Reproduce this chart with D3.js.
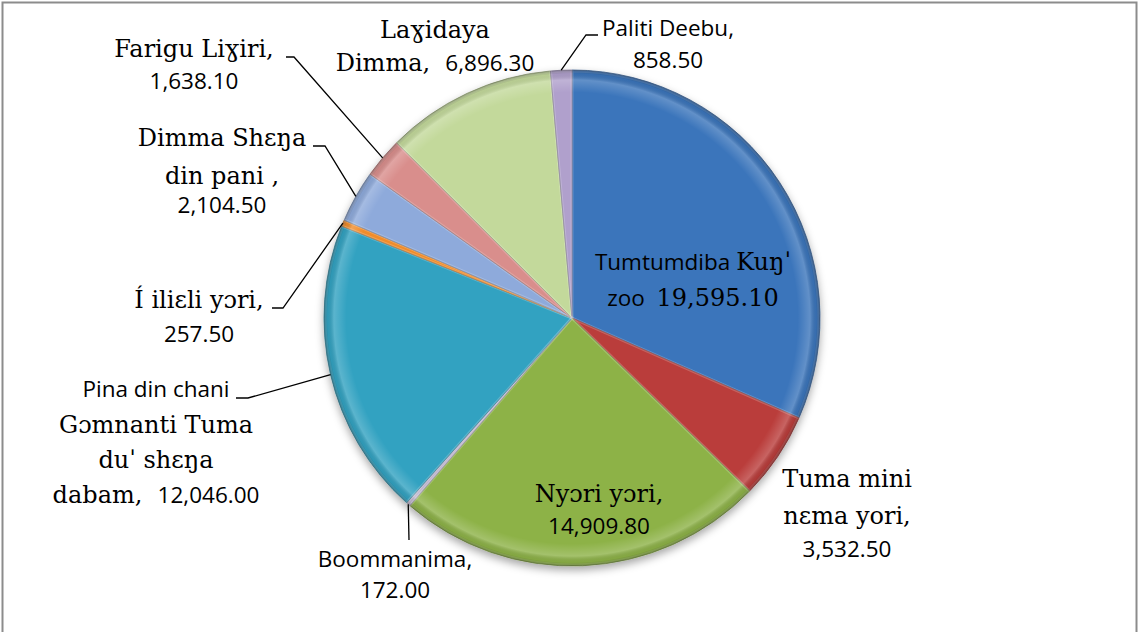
<!DOCTYPE html>
<html>
<head>
<meta charset="utf-8">
<script src="https://cdn.jsdelivr.net/npm/d3@7"></script>
<style>
  body { margin: 0; background: #fff; }
  .lbl { fill: #000; font-size: 23px; white-space: pre; }
  .s { font-family: "Open Sans", "Noto Sans", sans-serif; font-size: 22.5px; }
  .r { font-family: "DejaVu Serif", serif; font-size: 24px; }
  .leader { fill: none; stroke: #000; stroke-width: 1.3; }
</style>
</head>
<body>
<script>
// slice data, clockwise from 12 o'clock
const categories = [
  "Tumtumdiba Kuŋˈ zoo", "Tuma mini nɛma yori", "Nyɔri yɔri", "Boommanima",
  "Pina din chani Gɔmnanti Tuma duˈ shɛŋa dabam", "Í iliɛli yɔri",
  "Dimma Shɛŋa din pani", "Farigu Liɣiri", "Laɣidaya Dimma", "Paliti Deebu"
];
const values = [19595.10, 3532.50, 14909.80, 172.00, 12046.00, 257.50, 2104.50, 1638.10, 6896.30, 858.50];
const colors = ["#3b74bb", "#ba3d3a", "#8db246", "#bcb3cb", "#33a2c1", "#f08c2c", "#8eaadb", "#d98e8c", "#c3d99b", "#b0a0cc"];

// label text: lines of [font, text] runs (s = sans, r = serif)
const labelLines = [
  [[["s", "Tumtumdiba "], ["r", "Kuŋˈ"]], [["s", "zoo  "], ["r", "19,595.10"]]],
  [[["r", "Tuma mini"]], [["r", "nɛma yori,"]], [["s", "3,532.50"]]],
  [[["r", "Nyɔri yɔri,"]], [["s", "14,909.80"]]],
  [[["s", "Boommanima,"]], [["s", "172.00"]]],
  [[["s", "Pina din chani"]], [["r", "Gɔmnanti Tuma"]], [["r", "duˈ shɛŋa"]], [["r", "dabam,  "], ["s", "12,046.00"]]],
  [[["r", "Í iliɛli yɔri,"]], [["s", "257.50"]]],
  [[["r", "Dimma Shɛŋa"]], [["r", "din pani ,"]], [["s", "2,104.50"]]],
  [[["r", "Farigu Liɣiri,"]], [["s", "1,638.10"]]],
  [[["r", "Laɣidaya"]], [["r", "Dimma,  "], ["s", "6,896.30"]]],
  [[["s", "Paliti Deebu,"]], [["s", "858.50"]]]
];

// layout: label centre x and line baselines, leader elbows
const labelX = [693, 847, 599, 395, 156, 199, 222, 194, 435, 668];
const labelBase = [
  [270, 306], [487, 524, 557], [502, 534], [567, 598],
  [397, 433, 468, 503], [308, 342], [146, 184, 213], [57, 89], [38, 71], [36, 68]
];
const leaders = [
  null, null, null,
  [[409, 540]],
  [[248, 398], [236, 398]],
  [[283, 308], [272, 308]],
  [[325, 146], [313, 146]],
  [[294, 57], [286, 57]],
  null,
  [[586, 35], [598, 35]]
];

const width = 1139, height = 632;
const cx = 572, cy = 318, radius = 248;

const svg = d3.select("body").append("svg")
  .attr("width", width)
  .attr("height", height);

svg.append("rect")
  .attr("x", 2.5).attr("y", 2.5)
  .attr("width", 1134).attr("height", 640)
  .attr("fill", "#fff")
  .attr("stroke", "#8c8c8c")
  .attr("stroke-width", 2);

const defs = svg.append("defs");
const shadow = defs.append("filter").attr("id", "shadow")
  .attr("x", "-10%").attr("y", "-10%").attr("width", "120%").attr("height", "125%");
shadow.append("feDropShadow")
  .attr("dx", 0).attr("dy", 4).attr("stdDeviation", 4)
  .attr("flood-color", "#000").attr("flood-opacity", 0.35);

const rim = defs.append("radialGradient").attr("id", "rim")
  .attr("cx", 0.5).attr("cy", 0.5).attr("r", 0.5);
[[0, "#fff", 0], [0.91, "#fff", 0], [0.96, "#fff", 0.2], [0.985, "#000", 0.06], [1, "#000", 0.3]]
  .forEach(([o, c, a]) => rim.append("stop").attr("offset", o).attr("stop-color", c).attr("stop-opacity", a));

const pie = d3.pie().sort(null).value(d => d)(values);
const arc = d3.arc().innerRadius(0).outerRadius(radius);
const edgeArc = d3.arc().innerRadius(radius).outerRadius(radius);

const g = svg.append("g").attr("transform", `translate(${cx},${cy})`);

const slices = g.append("g").attr("filter", "url(#shadow)");
slices.selectAll("path")
  .data(pie)
  .enter().append("path")
  .attr("d", arc)
  .attr("fill", (d, i) => colors[i])
  .attr("stroke", (d, i) => d3.color(colors[i]).darker(1))
  .attr("stroke-width", 0.8);

g.append("circle")
  .attr("r", radius)
  .attr("fill", "url(#rim)")
  .attr("pointer-events", "none");

// soft highlight just inside slice borders
g.append("g").selectAll("path")
  .data(pie)
  .enter().append("path")
  .attr("d", d3.arc().innerRadius(0).outerRadius(radius - 1))
  .attr("fill", "none")
  .attr("stroke", "#fff")
  .attr("stroke-opacity", 0.1)
  .attr("stroke-width", 3);

// leader lines
pie.forEach((d, i) => {
  if (!leaders[i]) return;
  const start = edgeArc.centroid(d);
  const pts = [[cx + start[0], cy + start[1]], ...leaders[i]];
  svg.append("path")
    .attr("class", "leader")
    .attr("d", d3.line()(pts));
});

// labels
labelLines.forEach((lines, i) => {
  const t = svg.append("text")
    .attr("class", "lbl")
    .attr("text-anchor", "middle");
  lines.forEach((runs, j) => {
    runs.forEach((run, k) => {
      const ts = t.append("tspan")
        .attr("class", run[0])
        .text(run[1]);
      if (k === 0) ts.attr("x", labelX[i]).attr("y", labelBase[i][j]);
    });
  });
});
</script>
</body>
</html>
